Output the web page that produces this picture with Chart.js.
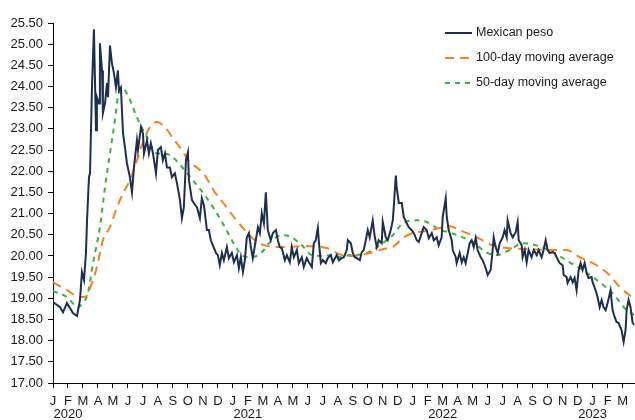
<!DOCTYPE html>
<html>
<head>
<meta charset="utf-8">
<script src="https://cdn.jsdelivr.net/npm/chart.js@4/dist/chart.umd.min.js"></script>
<style>
  body { margin: 0; background: #fff; }
</style>
</head>
<body>
<canvas id="pesoChart" width="635" height="420"></canvas>
<script>
// x values are months since Jan 2020 (0 = start of Jan 2020)
const monthLetters = ["J", "F", "M", "A", "M", "J", "J", "A", "S", "O", "N", "D"];
const yearTicks = { 1: "2020", 13: "2021", 26: "2022", 36: "2023" };

const pesoMonths = [
  0.00, 0.47, 0.67, 0.93, 1.13, 1.33, 1.60, 1.80, 1.93, 2.07, 2.20, 2.27, 2.40, 2.47, 2.60, 2.73,
  2.87, 2.93, 3.07, 3.13, 3.27, 3.33, 3.47, 3.60, 3.67, 3.80, 3.93, 4.07, 4.20, 4.33, 4.40, 4.53,
  4.67, 4.80, 4.93, 5.13, 5.27, 5.40, 5.60, 5.67, 5.87, 6.00, 6.07, 6.27, 6.40, 6.53, 6.67, 6.87,
  7.00, 7.20, 7.33, 7.47, 7.60, 7.80, 7.93, 8.13, 8.27, 8.47, 8.60, 8.73, 8.87, 9.00, 9.07, 9.27,
  9.40, 9.60, 9.80, 9.93, 10.07, 10.27, 10.40, 10.53, 10.67, 10.87, 11.00, 11.13, 11.27, 11.40, 11.60, 11.73,
  11.93, 12.07, 12.27, 12.40, 12.53, 12.67, 12.80, 12.93, 13.07, 13.20, 13.33, 13.53, 13.67, 13.80, 13.93, 14.07,
  14.20, 14.33, 14.53, 14.67, 14.87, 15.00, 15.13, 15.27, 15.47, 15.60, 15.80, 15.93, 16.07, 16.27, 16.40, 16.60,
  16.73, 16.93, 17.07, 17.27, 17.40, 17.53, 17.67, 17.73, 17.87, 18.00, 18.20, 18.33, 18.53, 18.67, 18.93, 19.07,
  19.27, 19.40, 19.60, 19.67, 19.87, 20.00, 20.13, 20.27, 20.47, 20.60, 20.73, 20.87, 21.00, 21.13, 21.33, 21.47,
  21.60, 21.73, 21.93, 22.00, 22.20, 22.33, 22.53, 22.67, 22.73, 22.87, 22.93, 23.07, 23.27, 23.40, 23.60, 23.73,
  23.93, 24.07, 24.27, 24.40, 24.60, 24.73, 24.93, 25.07, 25.27, 25.40, 25.60, 25.73, 25.93, 26.00, 26.20, 26.27,
  26.40, 26.60, 26.67, 26.87, 26.93, 27.13, 27.27, 27.40, 27.53, 27.67, 27.80, 27.93, 28.07, 28.20, 28.33, 28.53,
  28.67, 28.87, 29.00, 29.20, 29.33, 29.40, 29.53, 29.67, 29.80, 30.00, 30.13, 30.27, 30.33, 30.53, 30.67, 30.87,
  31.00, 31.07, 31.27, 31.33, 31.47, 31.60, 31.73, 31.93, 32.07, 32.27, 32.40, 32.60, 32.73, 32.87, 33.00, 33.13,
  33.33, 33.47, 33.60, 33.80, 34.00, 34.07, 34.27, 34.33, 34.53, 34.67, 34.80, 34.93, 35.07, 35.20, 35.33, 35.47,
  35.60, 35.73, 35.93, 36.00, 36.20, 36.33, 36.47, 36.60, 36.73, 36.87, 37.00, 37.20, 37.33, 37.47, 37.60, 37.73,
  37.93, 38.07, 38.20, 38.27, 38.40, 38.53, 38.67, 38.80
];
const pesoValues = [
  18.91, 18.79, 18.67, 18.89, 18.77, 18.65, 18.58, 18.96, 19.62, 19.43, 20.07, 20.84, 21.86, 21.95, 23.98, 25.35,
  22.97, 23.75, 23.60, 25.02, 24.38, 23.37, 23.60, 24.08, 23.75, 24.97, 24.55, 24.31, 23.98, 24.38, 23.91, 23.98,
  22.90, 22.57, 22.19, 21.86, 21.50, 22.09, 22.73, 22.50, 23.04, 22.90, 22.42, 22.73, 22.42, 22.66, 22.42, 21.95,
  22.50, 22.57, 22.26, 22.42, 22.09, 22.09, 21.86, 21.95, 21.72, 21.32, 20.89, 21.15, 22.26, 22.45, 21.79, 21.32,
  21.25, 21.15, 20.89, 21.36, 21.20, 20.61, 20.61, 20.37, 20.25, 20.07, 20.02, 19.78, 20.07, 19.90, 20.21, 19.95,
  20.07, 19.85, 20.02, 19.71, 19.97, 19.62, 19.90, 20.44, 20.54, 20.21, 19.95, 20.37, 20.68, 20.54, 21.01, 20.77,
  21.50, 20.61, 20.37, 20.54, 20.61, 20.37, 20.21, 20.18, 19.90, 20.02, 19.85, 20.21, 19.97, 20.14, 19.83, 19.97,
  19.74, 19.95, 19.85, 19.74, 20.30, 20.37, 20.66, 20.37, 19.83, 19.90, 19.83, 19.95, 20.02, 19.85, 20.02, 19.90,
  19.95, 19.97, 20.14, 20.37, 20.30, 20.07, 19.97, 19.95, 19.90, 20.09, 20.14, 20.37, 20.61, 20.44, 20.84, 20.44,
  20.21, 20.37, 20.30, 20.80, 20.44, 20.37, 20.61, 20.84, 21.13, 21.90, 21.62, 21.25, 21.25, 20.92, 20.77, 20.68,
  20.61, 20.54, 20.37, 20.33, 20.54, 20.68, 20.61, 20.42, 20.54, 20.37, 20.44, 20.25, 20.44, 20.92, 21.36, 20.92,
  20.61, 20.37, 20.14, 19.97, 19.83, 20.07, 19.85, 19.97, 19.83, 20.07, 20.30, 20.37, 20.21, 20.42, 20.14, 19.97,
  19.90, 19.71, 19.55, 19.67, 20.14, 20.44, 20.21, 20.07, 20.30, 20.44, 20.61, 20.44, 20.84, 20.54, 20.44, 20.56,
  20.80, 20.37, 20.25, 19.97, 20.14, 19.85, 20.14, 19.97, 20.14, 20.02, 20.14, 19.97, 20.14, 20.37, 20.14, 20.07,
  20.09, 20.07, 19.97, 19.83, 19.78, 19.55, 19.50, 19.36, 19.50, 19.38, 19.48, 19.19, 19.67, 19.83, 19.67, 19.83,
  19.59, 19.48, 19.50, 19.38, 19.19, 19.03, 18.79, 18.96, 18.79, 18.72, 18.89, 19.19, 18.72, 18.56, 18.44, 18.42,
  18.25, 17.97, 18.25, 18.72, 18.96, 18.79, 18.42, 18.37
];

const ma100Months = [
  0, 0.93, 1.8, 2.13, 2.6, 2.93, 3.33, 3.8, 4.27, 4.67, 5.13, 5.6, 6.0, 6.47, 6.93, 7.47,
  8.0, 8.6, 9.13, 9.67, 10.13, 10.8, 11.47, 12.13, 12.8, 13.47, 14.13, 14.8, 15.67, 16.6, 17.47, 18.33,
  19.27, 20.0, 21.13, 22.0, 22.67, 23.33, 24.0, 24.93, 25.8, 26.47, 27.13, 28.27, 29.33, 30.47, 31.8, 33.33,
  34.27, 35.13, 36.27, 37.13, 37.8, 38.8
];
const ma100Values = [
  19.38, 19.19, 19.03, 19.03, 19.36, 19.74, 20.37, 20.68, 21.15, 21.48, 21.79, 22.26, 22.68, 23.04, 23.16, 23.04,
  22.78, 22.50, 22.21, 22.07, 21.90, 21.50, 21.20, 20.89, 20.61, 20.37, 20.25, 20.21, 20.21, 20.23, 20.23, 20.18,
  20.02, 20.00, 20.07, 20.16, 20.21, 20.42, 20.54, 20.59, 20.66, 20.70, 20.61, 20.44, 20.25, 20.18, 20.16, 20.14,
  20.14, 19.97, 19.78, 19.55, 19.27, 18.98
];

const ma50Months = [
  0, 0.93, 1.67, 2.0, 2.33, 2.67, 3.13, 3.47, 3.8, 4.13, 4.33, 4.6, 5.0, 5.6, 6.27, 6.93,
  7.47, 8.0, 8.67, 9.33, 10.13, 10.8, 11.47, 12.13, 12.67, 13.27, 13.93, 14.6, 15.27, 15.93, 16.6, 17.27,
  17.93, 18.6, 19.27, 19.8, 20.67, 21.33, 22.0, 22.67, 23.33, 24.27, 24.93, 25.8, 26.47, 27.33, 28.0, 28.93,
  29.6, 30.47, 31.33, 32.27, 33.33, 34.47, 35.33, 36.47, 37.33, 38.27, 38.8
];
const ma50Values = [
  19.17, 19.03, 18.79, 18.89, 19.12, 19.83, 20.68, 21.62, 22.42, 23.20, 23.75, 23.96, 23.79, 23.27, 22.80, 22.42,
  22.42, 22.33, 22.07, 21.79, 21.43, 21.08, 20.68, 20.25, 20.00, 19.97, 20.09, 20.37, 20.49, 20.44, 20.25, 20.02,
  20.00, 20.02, 19.97, 20.02, 20.04, 20.14, 20.30, 20.49, 20.77, 20.84, 20.80, 20.62, 20.55, 20.44, 20.33, 20.08,
  20.02, 20.14, 20.30, 20.25, 20.09, 19.85, 19.67, 19.38, 19.12, 18.72, 18.60
];

function toPoints(xs, ys) {
  return xs.map((x, i) => ({ x: x, y: ys[i] }));
}

const fontFamily = "'Liberation Sans', Arial, sans-serif";

// legend drawn inside the plot, top right
const insideLegend = {
  id: "insideLegend",
  afterDraw(chart) {
    const ctx = chart.ctx;
    ctx.save();
    ctx.font = "12.5px " + fontFamily;
    ctx.textBaseline = "middle";
    chart.data.datasets.forEach((ds, i) => {
      const y = 33 + i * 25;
      ctx.strokeStyle = ds.borderColor;
      ctx.lineWidth = 2;
      ctx.setLineDash(ds.borderDash || []);
      ctx.beginPath();
      ctx.moveTo(445, y);
      ctx.lineTo(472, y);
      ctx.stroke();
      ctx.setLineDash([]);
      ctx.fillStyle = "#1a1a1a";
      ctx.fillText(ds.label, 476, y);
    });
    ctx.restore();
  }
};

new Chart(document.getElementById("pesoChart"), {
  type: "line",
  data: {
    datasets: [
      {
        label: "Mexican peso",
        data: toPoints(pesoMonths, pesoValues),
        borderColor: "#1d2f4f",
        borderWidth: 2,
        pointRadius: 0,
        tension: 0,
      },
      {
        label: "100-day moving average",
        data: toPoints(ma100Months, ma100Values),
        borderColor: "#f7801e",
        borderWidth: 2,
        borderDash: [9, 6],
        pointRadius: 0,
        cubicInterpolationMode: "monotone",
      },
      {
        label: "50-day moving average",
        data: toPoints(ma50Months, ma50Values),
        borderColor: "#3bb33b",
        borderWidth: 2,
        borderDash: [5, 5],
        pointRadius: 0,
        cubicInterpolationMode: "monotone",
      },
    ],
  },
  options: {
    responsive: false,
    animation: false,
    devicePixelRatio: 1,
    layout: { padding: { top: 23, right: 0, left: 0, bottom: 0 } },
    plugins: {
      legend: { display: false },
      tooltip: { enabled: false },
    },
    scales: {
      x: {
        type: "linear",
        min: 0,
        max: 38.8,
        afterFit: function (scale) { scale.height = 37; },
        border: { display: true, color: "#000", width: 1 },
        grid: { drawOnChartArea: false, drawTicks: true, tickLength: 5, color: "#000" },
        ticks: {
          stepSize: 1,
          includeBounds: false,
          autoSkip: false,
          maxRotation: 0,
          padding: 7,
          color: "#1a1a1a",
          font: { family: fontFamily, size: 13, lineHeight: 1.0 },
          callback: function (value) {
            if (!Number.isInteger(value)) return "";
            const letter = monthLetters[value % 12];
            return yearTicks[value] ? [letter, yearTicks[value]] : letter;
          },
        },
      },
      y: {
        min: 17,
        max: 25.5,
        afterFit: function (scale) { scale.width = 53; },
        border: { display: true, color: "#000", width: 1 },
        grid: { drawOnChartArea: false, drawTicks: true, tickLength: 5, color: "#000" },
        ticks: {
          stepSize: 0.5,
          padding: 5,
          color: "#1a1a1a",
          font: { family: fontFamily, size: 13 },
          callback: function (value) { return value.toFixed(2); },
        },
      },
    },
  },
  plugins: [insideLegend],
});
</script>
</body>
</html>
